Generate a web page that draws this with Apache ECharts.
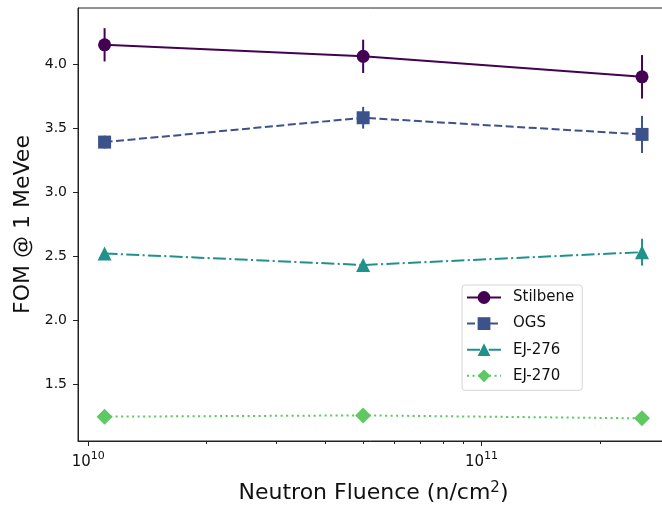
<!DOCTYPE html>
<html>
<head>
<meta charset="utf-8">
<script src="https://cdn.jsdelivr.net/npm/echarts@6/dist/echarts.min.js"></script>
<style>
  html, body { margin: 0; padding: 0; background: #fff; }
  #chart { width: 662px; height: 510px; }
</style>
</head>
<body>
<div id="chart"></div>
<script>
// Neutron fluence (n/cm^2) at which each detector was measured
const fluence = [1.1e10, 5.0e10, 2.56e11];

// Figure of merit at 1 MeVee and its uncertainty, per scintillator
const stilbene    = [4.15, 4.06, 3.90];
const stilbeneErr = [0.13, 0.13, 0.17];
const ogs         = [3.39, 3.58, 3.45];
const ogsErr      = [0.05, 0.085, 0.145];
const ej276       = [2.52, 2.43, 2.53];
const ej276Err    = [0.02, 0.04, 0.105];
const ej270       = [1.245, 1.255, 1.232];
const ej270Err    = [0.0, 0.0, 0.0];

// Axis ticks
const xMajorTicks = [1e10, 1e11];
const xMinorTicks = [2e10, 3e10, 4e10, 5e10, 6e10, 7e10, 8e10, 9e10, 2e11, 3e11];
const yTicks = [1.5, 2.0, 2.5, 3.0, 3.5, 4.0];

const FONT = 'DejaVu Sans';
const INK = '#111';

const detectors = [
  { name: 'Stilbene', vals: stilbene, errs: stilbeneErr, color: '#440154', symbol: 'circle',   size: 13, dash: 'solid' },
  { name: 'OGS',      vals: ogs,      errs: ogsErr,      color: '#3b528b', symbol: 'rect',     size: 13, dash: [8, 3.5] },
  { name: 'EJ-276',   vals: ej276,    errs: ej276Err,    color: '#21918c', symbol: 'triangle', size: 14, dash: [13, 3.3, 2.1, 3.3] },
  { name: 'EJ-270',   vals: ej270,    errs: ej270Err,    color: '#5ec962', symbol: 'diamond',  size: 16, dash: [2.1, 3.4] }
];

const series = [];
detectors.forEach(d => {
  // vertical error bars
  series.push({
    type: 'custom',
    name: d.name + ' error',
    xAxisIndex: 0,
    yAxisIndex: 0,
    silent: true,
    z: 3,
    encode: { x: 0, y: [1, 2] },
    data: fluence.map((x, i) => [x, d.vals[i] - d.errs[i], d.vals[i] + d.errs[i]]),
    renderItem: (params, api) => {
      const lo = api.coord([api.value(0), api.value(1)]);
      const hi = api.coord([api.value(0), api.value(2)]);
      return {
        type: 'line',
        shape: { x1: lo[0], y1: lo[1], x2: hi[0], y2: hi[1] },
        style: { stroke: d.color, lineWidth: 2 }
      };
    }
  });
  // line with markers
  series.push({
    type: 'line',
    name: d.name,
    xAxisIndex: 0,
    yAxisIndex: 0,
    z: 4,
    data: fluence.map((x, i) => [x, d.vals[i]]),
    symbol: d.symbol,
    symbolSize: d.size,
    showAllSymbol: true,
    itemStyle: { color: d.color, opacity: 1 },
    lineStyle: { color: d.color, width: 2, type: d.dash },
    emphasis: { disabled: true },
    animation: false
  });
});

const chart = echarts.init(document.getElementById('chart'), null, { renderer: 'canvas' });
chart.setOption({
  animation: false,
  backgroundColor: '#fff',
  grid: {
    left: 78, top: 8, width: 591, height: 433,
    outerBoundsMode: 'none',
    show: true, borderColor: '#222', borderWidth: 1, backgroundColor: 'transparent',
    containLabel: false
  },
  legend: {
    orient: 'vertical',
    left: 462, top: 285,
    data: detectors.map(d => d.name),
    itemWidth: 34, itemHeight: 16, itemGap: 11.1,
    padding: [5, 8, 7, 4],
    backgroundColor: 'rgba(255,255,255,0.85)',
    borderColor: '#d4d4d4', borderWidth: 1, borderRadius: 3,
    selectedMode: false,
    textStyle: { fontFamily: FONT, fontSize: 15, color: INK, padding: [0, 0, 0, 7] }
  },
  xAxis: [{
    type: 'log',
    logBase: 10,
    min: 9.414e9,
    max: 2.998e11,
    axisLine: { show: true, onZero: false, lineStyle: { color: '#222', width: 1 } },
    axisTick: { show: true, length: 5, customValues: xMajorTicks, lineStyle: { color: '#222' } },
    minorTick: { show: false },
    splitLine: { show: false },
    axisLabel: {
      customValues: xMajorTicks,
      margin: 10,
      formatter: v => '{b|10}{s|' + Math.round(Math.log10(v)) + '}',
      rich: {
        b: { fontFamily: FONT, fontSize: 15, color: INK, verticalAlign: 'bottom' },
        s: { fontFamily: FONT, fontSize: 11, color: INK, verticalAlign: 'bottom', padding: [0, 0, 8, 0] }
      }
    },
    name: 'Neutron Fluence (n/cm{s|2})',
    nameLocation: 'middle',
    nameGap: 40,
    nameTextStyle: {
      fontFamily: FONT, fontSize: 22, color: INK,
      rich: {
        s: { fontFamily: FONT, fontSize: 15, color: INK, verticalAlign: 'bottom', padding: [0, 0, 10, 0] }
      }
    }
  }, {
    type: 'log',
    logBase: 10,
    position: 'bottom',
    min: 9.414e9,
    max: 2.998e11,
    axisLine: { show: false },
    axisTick: { show: true, length: 3, customValues: xMinorTicks, lineStyle: { color: '#222' } },
    axisLabel: { show: false },
    splitLine: { show: false }
  }],
  yAxis: {
    type: 'value',
    min: 1.055,
    max: 4.4375,
    axisLine: { show: true, onZero: false, lineStyle: { color: '#222', width: 1 } },
    axisTick: { show: true, length: 5, customValues: yTicks, lineStyle: { color: '#222' } },
    splitLine: { show: false },
    axisLabel: {
      customValues: yTicks,
      formatter: v => v.toFixed(1),
      fontFamily: FONT, fontSize: 14, color: INK, margin: 11
    },
    name: 'FOM @ 1 MeVee',
    nameLocation: 'middle',
    nameGap: 34,
    nameTextStyle: { fontFamily: FONT, fontSize: 22, color: INK }
  },
  series: series
});
</script>
</body>
</html>
